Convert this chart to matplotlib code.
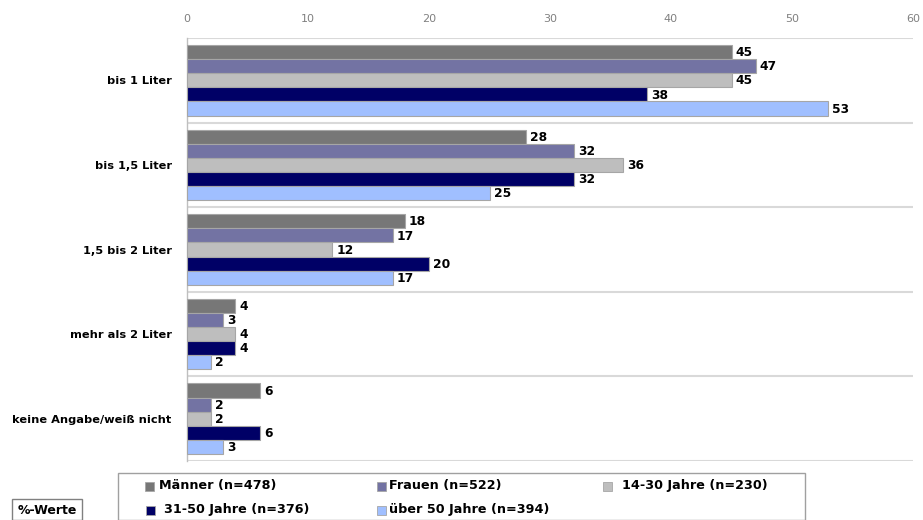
import matplotlib.pyplot as plt
from matplotlib.patches import Rectangle
import numpy as np

# Trinkmenge pro Tag, Angaben in Prozent
categories = ['bis 1 Liter', 'bis 1,5 Liter', '1,5 bis 2 Liter', 'mehr als 2 Liter', 'keine Angabe/weiß nicht']
series_names = ['Männer (n=478)', 'Frauen (n=522)', '14-30 Jahre (n=230)', '31-50 Jahre (n=376)', 'über 50 Jahre (n=394)']
maenner = [45, 28, 18, 4, 6]
frauen = [47, 32, 17, 3, 2]
jahre_14_30 = [45, 36, 12, 4, 2]
jahre_31_50 = [38, 32, 20, 4, 6]
ueber_50 = [53, 25, 17, 2, 3]
x_ticks = [0, 10, 20, 30, 40, 50, 60]

values = [maenner, frauen, jahre_14_30, jahre_31_50, ueber_50]
colors = ['#777777', '#7373A3', '#BEBEBE', '#000066', '#A0BFFF']

W, H = 923, 520
fig = plt.figure(figsize=(W / 100, H / 100), dpi=100)
ax = fig.add_axes([187 / W, 1 - 461 / H, (913 - 187) / W, (461 - 38) / H])

y = np.arange(len(categories))
bh = 1 / 6
for j, (vals, col) in enumerate(zip(values, colors)):
    pos = y + (j - 2) * bh
    ax.barh(pos, vals, height=bh, color=col, edgecolor='#A6A6A6', linewidth=0.8, zorder=3)
    for p, v in zip(pos, vals):
        ax.annotate(str(v), (v, p), xytext=(3, -0.5), textcoords='offset points',
                    ha='left', va='center', fontsize=8.8, fontweight='bold', color='black')

ax.set_xlim(0, 60)
ax.set_ylim(len(categories) - 0.5, -0.5)

# group separators
for k in range(len(categories) + 1):
    ax.axhline(k - 0.5, color='#D9D9D9', lw=1.5, zorder=1)

for s in ['top', 'right', 'bottom']:
    ax.spines[s].set_visible(False)
ax.spines['left'].set_color('#BFBFBF')
ax.spines['left'].set_linewidth(1.0)

ax.xaxis.tick_top()
ax.set_xticks(x_ticks)
ax.set_xticklabels([str(t) for t in x_ticks])
ax.tick_params(axis='x', length=0, pad=10, labelsize=8, labelcolor='#808080')
ax.set_yticks(y)
ax.set_yticklabels(categories, fontsize=8.2, fontweight='bold')
ax.tick_params(axis='y', length=0, pad=11)

# legend box
fig.add_artist(Rectangle((118 / W, 0), (805 - 118) / W, (H - 473) / H, transform=fig.transFigure,
                         facecolor='white', edgecolor='#A0A0A0', lw=1.0))
leg_pos = [(145, 486, 159), (377, 486, 389), (603, 486, 622), (146, 510, 164), (377, 510, 389)]
for (mx, my, tx), name, col in zip(leg_pos, series_names, colors):
    fig.add_artist(Rectangle((mx / W, 1 - (my + 4.5) / H), 9 / W, 9 / H, transform=fig.transFigure,
                             facecolor=col, edgecolor='#A6A6A6', lw=0.6))
    fig.text(tx / W, 1 - my / H, name, ha='left', va='center', fontsize=9.2, fontweight='bold')

# unit box
fig.add_artist(Rectangle((12 / W, 0), 70 / W, (H - 499) / H, transform=fig.transFigure,
                         facecolor='white', edgecolor='#808080', lw=1.0))
fig.text(47 / W, 1 - 510 / H, '%-Werte', ha='center', va='center', fontsize=9, fontweight='bold')

fig.savefig('out.png', dpi=100)
